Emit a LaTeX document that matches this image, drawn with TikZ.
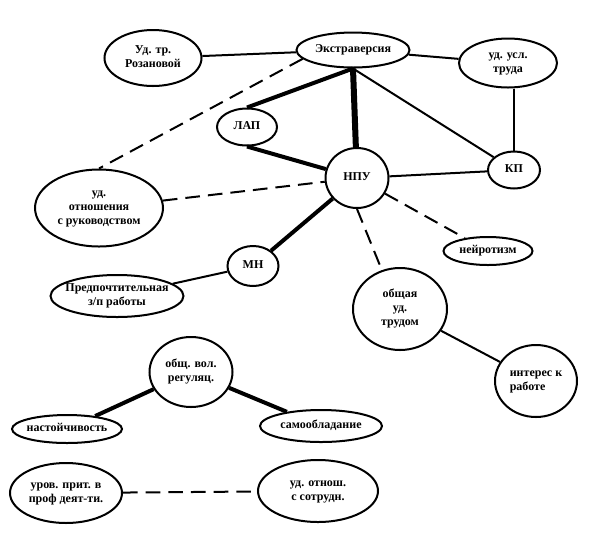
\documentclass[tikz,border=0pt]{standalone}
\usepackage{fontspec}
\setmainfont{Liberation Serif}
\usetikzlibrary{shapes.geometric}
\newcommand{\ovl}[1]{\makebox[0pt]{\begin{tabular}{@{}c@{}}#1\end{tabular}}}
\begin{document}
\begin{tikzpicture}[x=0.75pt, y=-0.75pt,
        ell/.style 2 args={draw, ellipse, line width=1.5pt, inner sep=0pt,
            minimum width=#1*0.75pt, minimum height=#2*0.75pt,
            font=\fontsize{9}{10.5}\selectfont\bfseries},
        thinlink/.style={line width=1.5pt},
        boldlink/.style={line width=3pt},
        heavylink/.style={line width=4.5pt},
        dashlink/.style={line width=1.5pt, dash pattern=on 11pt off 6pt}]
        \useasboundingbox (0,0) rectangle (600,537);

        % ==== UPPER GROUP ====
        \node[ell={97}{56}] (roz) at (153,58) {\ovl{Уд. тр.\\ Розановой}};
        \node[ell={113}{35}] (ext) at (353,50) {\ovl{Экстраверсия}};
        \node[ell={98}{49}] (usl) at (508,63) {\ovl{уд. усл.\\ труда}};
        \node[ell={60}{37}] (lap) at (247,127) {\ovl{ЛАП}};
        \node[ell={63}{60}] (npu) at (357,178) {\ovl{НПУ}};
        \node[ell={52}{37}] (kp) at (514,170) {\ovl{КП}};
        \node[ell={128}{77}] (rel) at (99,208) {\ovl{уд.\\ отношения\\ с руководством}};
        \node[ell={89}{28}] (neur) at (488,251) {\ovl{нейротизм}};
        \node[ell={51}{40}] (mn) at (253,266) {\ovl{МН}};
        \node[ell={133}{42}] (pref) at (117,296) {\ovl{Предпочтительная\\ з/п работы}};
        \node[ell={94}{82}] (obsh) at (400,309) {\ovl{общая\\ уд.\\ трудом}};
        \node[ell={82}{72}] (inter) at (536,381)
            {\makebox[0pt]{\begin{tabular}{@{}l@{}}интерес к\\ работе\end{tabular}}};

        % ==== LINKS ====
        \draw[thinlink] (roz) -- (ext);
        \draw[thinlink] (ext) -- (usl);
        \draw[thinlink] (kp.north |- usl.south) -- (kp.north);
        \draw[thinlink] (ext.south) -- (kp);
        \draw[heavylink] (ext.south) -- (npu);
        \draw[boldlink] (ext.south) -- (lap.north);
        \draw[boldlink] (lap.south) -- (npu);
        \draw[thinlink] (npu) -- (kp);
        \draw[dashlink] (ext.190) -- (rel.north);
        \draw[dashlink] (rel) -- (npu);
        \draw[boldlink] (npu) -- (mn);
        \draw[thinlink] (mn) -- (pref);
        \draw[dashlink] (npu) -- (neur);
        \draw[dashlink] (npu.south) -- (obsh.115);
        \draw[thinlink] (obsh) -- (inter);

        % ==== WILL REGULATION ====
        \node[ell={83}{70}] (vol) at (191,372) {\ovl{общ. вол.\\ регуляц.}};
        \node[ell={110}{28}] (nast) at (67,429) {\ovl{настойчивость}};
        \node[ell={122}{32}] (samo) at (321,426) {\ovl{самообладание}};
        \draw[boldlink] (vol) -- (nast);
        \draw[boldlink] (vol) -- (samo);

        % ==== BOTTOM PAIR ====
        \node[ell={112}{60}] (urov) at (66,493) {\ovl{уров. прит. в\\ проф деят-ти.}};
        \node[ell={120}{62}] (sotr) at (318,491) {\ovl{уд. отнош.\\ с сотрудн.}};
        \draw[dashlink] (urov) -- (sotr);

    \end{tikzpicture}
\end{document}
